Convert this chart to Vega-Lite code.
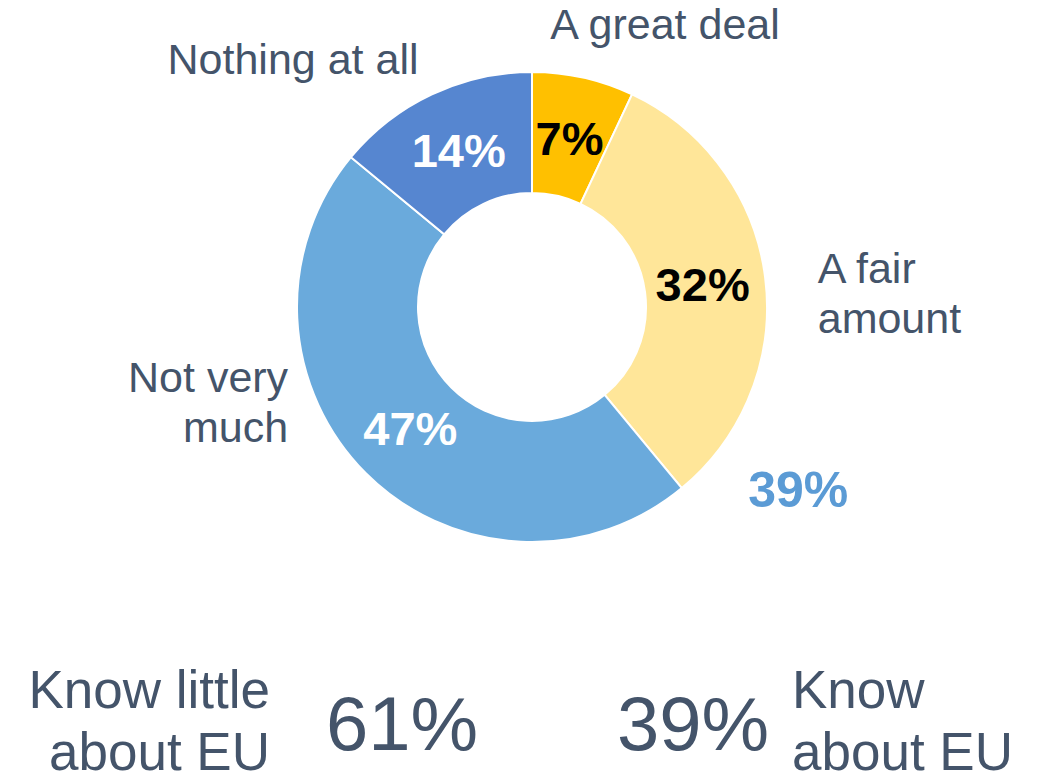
{
  "$schema": "https://vega.github.io/schema/vega-lite/v6.json",
  "padding": {"left": 26, "top": 0, "right": 0, "bottom": 0},
  "spacing": 61,
  "bounds": "flush",
  "background": "white",
  "config": {"view": {"stroke": null}, "font": "Liberation Sans"},
  "datasets": {
    "answers": [
      {"category": "A great deal", "label": "A great deal", "pct": 0.07, "order": 1},
      {"category": "A fair amount", "label": "A fair\namount", "pct": 0.32, "order": 2},
      {"category": "Not very much", "label": "Not very\nmuch", "pct": 0.47, "order": 3},
      {"category": "Nothing at all", "label": "Nothing at all", "pct": 0.14, "order": 4}
    ],
    "summary": [
      {"group": "Know little about EU", "label": "Know little\nabout EU", "share": 0.61},
      {"group": "Know about EU", "label": "Know\nabout EU", "share": 0.39}
    ]
  },
  "vconcat": [
    {
      "width": 1012,
      "height": 614,
      "data": {"name": "answers"},
      "layer": [
        {
          "mark": {"type": "arc", "innerRadius": 114, "outerRadius": 235, "stroke": "white", "strokeWidth": 2},
          "encoding": {
            "theta": {"field": "pct", "type": "quantitative", "stack": true},
            "order": {"field": "order", "type": "quantitative"},
            "color": {
              "field": "category",
              "type": "nominal",
              "scale": {
                "domain": ["A great deal", "A fair amount", "Not very much", "Nothing at all"],
                "range": ["#FFC000", "#FFE699", "#6AAADC", "#5686D0"]
              },
              "legend": null
            }
          }
        },
        {
          "mark": {"type": "text", "radius": 172, "fontSize": 47, "fontWeight": "bold", "dy": 2},
          "encoding": {
            "theta": {"field": "pct", "type": "quantitative", "stack": true},
            "order": {"field": "order", "type": "quantitative"},
            "text": {"field": "pct", "type": "quantitative", "format": ".0%"},
            "color": {"condition": {"test": "datum.order <= 2", "value": "#000000"}, "value": "#FFFFFF"}
          }
        },
        {
          "mark": {"type": "text", "radius": 290, "fontSize": 43, "color": "#44546A", "align": "left", "dx": -45, "dy": 2, "lineBreak": "\n", "lineHeight": 50},
          "encoding": {
            "theta": {"field": "pct", "type": "quantitative", "stack": true},
            "order": {"field": "order", "type": "quantitative"},
            "text": {"condition": {"test": "datum.category === 'A great deal'", "field": "label", "type": "nominal"}, "value": ""}
          }
        },
        {
          "mark": {"type": "text", "radius": 290, "fontSize": 43, "color": "#44546A", "align": "left", "dx": -2, "dy": -1, "lineBreak": "\n", "lineHeight": 50},
          "encoding": {
            "theta": {"field": "pct", "type": "quantitative", "stack": true},
            "order": {"field": "order", "type": "quantitative"},
            "text": {"condition": {"test": "datum.category === 'A fair amount'", "field": "label", "type": "nominal"}, "value": ""}
          }
        },
        {
          "mark": {"type": "text", "radius": 137, "fontSize": 43, "color": "#44546A", "align": "right", "dx": -147, "dy": -25, "lineBreak": "\n", "lineHeight": 50},
          "encoding": {
            "theta": {"field": "pct", "type": "quantitative", "stack": true},
            "order": {"field": "order", "type": "quantitative"},
            "text": {"condition": {"test": "datum.category === 'Not very much'", "field": "label", "type": "nominal"}, "value": ""}
          }
        },
        {
          "mark": {"type": "text", "radius": 290, "fontSize": 43, "color": "#44546A", "align": "right", "dx": 10, "dy": 16, "lineBreak": "\n", "lineHeight": 50},
          "encoding": {
            "theta": {"field": "pct", "type": "quantitative", "stack": true},
            "order": {"field": "order", "type": "quantitative"},
            "text": {"condition": {"test": "datum.category === 'Nothing at all'", "field": "label", "type": "nominal"}, "value": ""}
          }
        },
        {
          "data": {"name": "summary"},
          "transform": [{"filter": "datum.group === 'Know about EU'"}],
          "mark": {"type": "text", "radius": 300, "dx": 75, "dy": -46, "fontSize": 50, "fontWeight": "bold", "color": "#5B9BD5"},
          "encoding": {
            "theta": {"field": "share", "type": "quantitative", "stack": null},
            "text": {"field": "share", "type": "quantitative", "format": ".0%"}
          }
        }
      ]
    },
    {
      "width": 1012,
      "height": 100,
      "data": {"name": "summary"},
      "encoding": {
        "x": {
          "field": "group",
          "type": "nominal",
          "scale": {"type": "point", "padding": 0, "domain": ["Know little about EU", "Know about EU"], "range": [376, 667]},
          "axis": null
        }
      },
      "layer": [
        {
          "mark": {"type": "text", "fontSize": 76, "color": "#44546A", "dy": 2},
          "encoding": {"text": {"field": "share", "type": "quantitative", "format": ".0%"}}
        },
        {
          "transform": [{"filter": "datum.group === 'Know little about EU'"}],
          "mark": {"type": "text", "fontSize": 53, "color": "#44546A", "align": "right", "dx": -132, "dy": -33, "lineBreak": "\n", "lineHeight": 62},
          "encoding": {"text": {"field": "label", "type": "nominal"}}
        },
        {
          "transform": [{"filter": "datum.group === 'Know about EU'"}],
          "mark": {"type": "text", "fontSize": 53, "color": "#44546A", "align": "left", "dx": 99, "dy": -33, "lineBreak": "\n", "lineHeight": 62},
          "encoding": {"text": {"field": "label", "type": "nominal"}}
        }
      ]
    }
  ]
}
